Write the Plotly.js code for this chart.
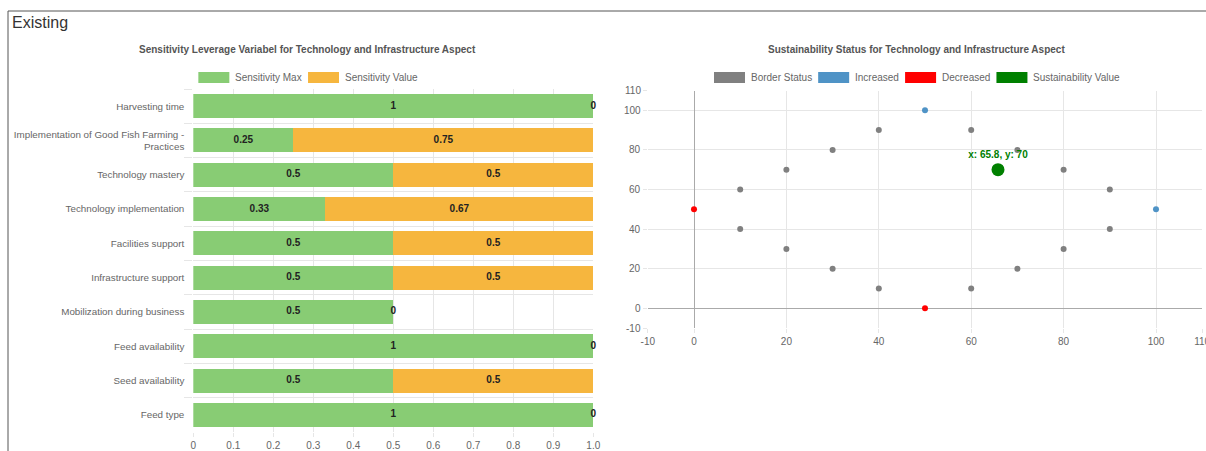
<!DOCTYPE html>
<html><head><meta charset="utf-8">
<script src="https://cdn.plot.ly/plotly-3.0.1.min.js"></script>
<style>html,body{margin:0;padding:0;background:#fff;overflow:hidden}#chart{width:1206px;height:451px}</style>
</head><body><div id="chart"></div>
<script>
// ---- data: left chart ----
const categories = [
  "Harvesting time",
  "Implementation of Good Fish Farming -<br>Practices",
  "Technology mastery",
  "Technology implementation",
  "Facilities support",
  "Infrastructure support",
  "Mobilization during business",
  "Feed availability",
  "Seed availability",
  "Feed type"
];
const sensitivityMax   = [1, 0.25, 0.5, 0.33, 0.5, 0.5, 0.5, 1, 0.5, 1];
const sensitivityValue = [0, 0.75, 0.5, 0.67, 0.5, 0.5, 0,   0, 0.5, 0];
const barTickVals = [0, 0.1, 0.2, 0.3, 0.4, 0.5, 0.6, 0.7, 0.8, 0.9, 1];
const barTickText = ["0", "0.1", "0.2", "0.3", "0.4", "0.5", "0.6", "0.7", "0.8", "0.9", "1.0"];
const barSeriesNames = ["Sensitivity Max", "Sensitivity Value"];
const barColors = ["#88cc74", "#f6b63e"];

// ---- data: right chart ----
const borderX = [10, 20, 30, 40, 60, 70, 80, 90, 10, 20, 30, 40, 60, 70, 80, 90];
const borderY = [60, 70, 80, 90, 90, 80, 70, 60, 40, 30, 20, 10, 10, 20, 30, 40];
const increasedX = [50, 100];
const increasedY = [100, 50];
const decreasedX = [0, 50];
const decreasedY = [50, 0];
const sustainX = [65.8];
const sustainY = [70];
const scatterTicks = [-10, 0, 20, 40, 60, 80, 100, 110];
const scatterTickText = ["-10", "0", "20", "40", "60", "80", "100", "110"];
const scatterSeriesNames = ["Border Status", "Increased", "Decreased", "Sustainability Value"];
const scatterColors = ["#808080", "#4f93c6", "#ff0000", "#008000"];

const W = 1206, H = 451;
const px = v => v / W;
const py = v => 1 - v / H;
const FONT = "Liberation Sans, Arial, Helvetica, sans-serif";

// text positions for bar labels derived from data
const maxLabelX = sensitivityMax.map(v => v / 2);
const valLabelX = sensitivityMax.map((m, i) => m + sensitivityValue[i] / 2);

const traces = [
  {type: "bar", orientation: "h", name: barSeriesNames[0], x: sensitivityMax, y: categories,
   marker: {color: barColors[0]}, xaxis: "x", yaxis: "y", hoverinfo: "skip"},
  {type: "bar", orientation: "h", name: barSeriesNames[1], x: sensitivityValue, y: categories,
   marker: {color: barColors[1]}, xaxis: "x", yaxis: "y", hoverinfo: "skip"},
  {type: "scatter", mode: "text", x: maxLabelX, y: categories, text: sensitivityMax.map(String),
   textfont: {family: FONT, size: 10, color: "#222", weight: "bold"}, cliponaxis: false,
   xaxis: "x", yaxis: "y", hoverinfo: "skip"},
  {type: "scatter", mode: "text", x: valLabelX, y: categories, text: sensitivityValue.map(String),
   textfont: {family: FONT, size: 10, color: "#222", weight: "bold"}, cliponaxis: false,
   xaxis: "x", yaxis: "y", hoverinfo: "skip"},
  {type: "scatter", mode: "markers", name: scatterSeriesNames[0], x: borderX, y: borderY,
   marker: {color: scatterColors[0], size: 6}, xaxis: "x2", yaxis: "y2"},
  {type: "scatter", mode: "markers", name: scatterSeriesNames[1], x: increasedX, y: increasedY,
   marker: {color: scatterColors[1], size: 6}, xaxis: "x2", yaxis: "y2"},
  {type: "scatter", mode: "markers", name: scatterSeriesNames[2], x: decreasedX, y: decreasedY,
   marker: {color: scatterColors[2], size: 6}, xaxis: "x2", yaxis: "y2"},
  {type: "scatter", mode: "markers+text", name: scatterSeriesNames[3], x: sustainX, y: sustainY,
   text: sustainX.map((v, i) => "x: " + v + ", y: " + sustainY[i]), textposition: "top center",
   textfont: {family: FONT, size: 10, color: scatterColors[3], weight: "bold"},
   marker: {color: scatterColors[3], size: 13}, cliponaxis: false, xaxis: "x2", yaxis: "y2"}
];

// custom legends (wide swatches)
const ctx = document.createElement("canvas").getContext("2d");
ctx.font = "10px " + FONT;
const shapes = [
  {type: "line", xref: "paper", yref: "paper", x0: px(8), x1: 1, y0: py(11), y1: py(11), line: {color: "#555", width: 1}},
  {type: "line", xref: "paper", yref: "paper", x0: px(8), x1: px(8), y0: py(11), y1: 0, line: {color: "#555", width: 1}}
];
const annotations = [
  {xref: "paper", yref: "paper", x: px(10), y: py(22), xanchor: "left", yanchor: "middle", showarrow: false,
   text: "Existing", font: {family: FONT, size: 16, color: "#333"}},
  {xref: "paper", yref: "paper", x: px(307), y: py(50), xanchor: "center", yanchor: "middle", showarrow: false,
   text: "<b>Sensitivity Leverage Variabel for Technology and Infrastructure Aspect</b>", font: {family: FONT, size: 10, color: "#555"}},
  {xref: "paper", yref: "paper", x: px(916), y: py(50), xanchor: "center", yanchor: "middle", showarrow: false,
   text: "<b>Sustainability Status for Technology and Infrastructure Aspect</b>", font: {family: FONT, size: 10, color: "#555"}}
];
const y2Range = [-10, 110];
const y2Domain = [py(328.1), py(90.5)];
// y tick labels of the scatter chart, placed along the y2 domain
scatterTicks.forEach((v, i) => {
  const f = (v - y2Range[0]) / (y2Range[1] - y2Range[0]);
  annotations.push({xref: "paper", yref: "paper", x: px(643), y: y2Domain[0] + f * (y2Domain[1] - y2Domain[0]),
    xanchor: "right", yanchor: "middle", showarrow: false,
    text: scatterTickText[i], font: {family: FONT, size: 10, color: "#666"}});
});
function addLegend(names, colors, centerX, centerY) {
  const sw = 31, sh = 11, gap = 4, itemGap = 8;
  const widths = names.map(n => sw + gap + ctx.measureText(n).width);
  const total = widths.reduce((a, b) => a + b, 0) + itemGap * (names.length - 1);
  let x = centerX - total / 2;
  names.forEach((n, i) => {
    shapes.push({type: "rect", xref: "paper", yref: "paper", x0: px(x), x1: px(x + sw),
      y0: py(centerY + sh / 2), y1: py(centerY - sh / 2), fillcolor: colors[i], line: {width: 0}});
    annotations.push({xref: "paper", yref: "paper", x: px(x + sw + gap), y: py(centerY), xanchor: "left", yanchor: "middle",
      showarrow: false, text: n, font: {family: FONT, size: 10, color: "#666"}});
    x += widths[i] + itemGap;
  });
}
addLegend(barSeriesNames, barColors, 307, 77.5);
addLegend(scatterSeriesNames, scatterColors, 916, 77.5);

const grid = "#e6e6e6";
const layout = {
  width: W, height: H, margin: {l: 0, r: 0, t: 0, b: 0},
  paper_bgcolor: "#fff", plot_bgcolor: "rgba(0,0,0,0)", showlegend: false,
  barmode: "stack", bargap: 0.3,
  font: {family: FONT, size: 10, color: "#666"},
  xaxis: {domain: [px(193.3), px(593.3)], range: [0, 1], tickmode: "array", tickvals: barTickVals, ticktext: barTickText,
    showgrid: true, gridcolor: grid, zeroline: false, showline: false, ticks: "outside", ticklen: 4, tickcolor: grid,
    ticklabeloverflow: "allow", anchor: "y", fixedrange: true},
  yaxis: {domain: [py(432), py(89)], type: "category", autorange: "reversed", tickson: "boundaries",
    showgrid: true, gridcolor: grid, zeroline: false, showline: false, ticks: "outside", ticklen: 8, tickcolor: grid,
    tickfont: {size: 9.8}, ticklabelstandoff: 8, anchor: "x", fixedrange: true},
  xaxis2: {domain: [px(647.8), px(1202.2)], range: [-10, 110], tickmode: "array", tickvals: scatterTicks, ticktext: scatterTickText,
    showgrid: true, gridcolor: grid, zeroline: true, zerolinecolor: "#aaa", zerolinewidth: 1, showline: false,
    ticks: "outside", ticklen: 4, tickcolor: grid, ticklabeloverflow: "allow", anchor: "y2", fixedrange: true},
  yaxis2: {domain: y2Domain, range: y2Range, tickmode: "array", tickvals: scatterTicks,
    showgrid: true, gridcolor: grid, zeroline: true, zerolinecolor: "#aaa", zerolinewidth: 1, showline: false,
    showticklabels: false, ticks: "outside", ticklen: 4, tickcolor: grid, anchor: "x2", fixedrange: true},
  shapes: shapes, annotations: annotations
};
Plotly.newPlot("chart", traces, layout, {staticPlot: true, displayModeBar: false});
</script></body></html>
